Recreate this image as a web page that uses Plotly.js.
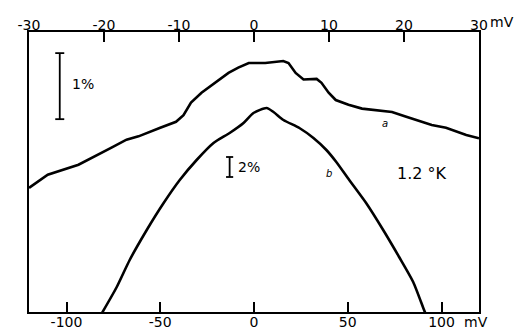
<!DOCTYPE html>
<html>
<head>
<meta charset="utf-8">
<script src="https://cdn.plot.ly/plotly-3.0.1.min.js"></script>
<style>html,body{margin:0;padding:0;background:#fff;}</style>
</head>
<body>
<div id="chart" style="width:521px;height:331px;"></div>
<script>
// Curve a: top axis (mV, -30..30), relative change in %
const aVoltage = [-30.0, -27.5, -23.4, -21.45, -19.0, -17.0, -15.4, -12.5, -10.4, -9.4, -8.4, -7.0, -5.15, -3.4, -2.1, -0.7, 1.5, 3.3, 3.9, 4.6, 5.55, 6.6, 8.35, 9.0, 9.95, 10.9, 12.6, 14.4, 16.6, 18.4, 20.2, 23.7, 25.6, 28.3, 30.0];
const aPercent = [1.88, 2.08, 2.23, 2.35, 2.49, 2.61, 2.66, 2.79, 2.88, 2.98, 3.17, 3.32, 3.47, 3.62, 3.70, 3.77, 3.77, 3.79, 3.80, 3.77, 3.62, 3.52, 3.53, 3.47, 3.32, 3.21, 3.14, 3.08, 3.05, 3.03, 2.96, 2.83, 2.79, 2.68, 2.63];
// Curve b: bottom axis (mV, -120..120), relative change in %
const bVoltage = [-82.0, -73.2, -66.3, -57.2, -48.2, -39.6, -30.6, -21.6, -13.0, -5.6, -0.3, 6.7, 10.4, 15.7, 24.2, 31.7, 38.6, 43.9, 50.8, 59.8, 68.9, 77.4, 84.9, 90.7, 91.8];
const bPercent = [-0.4, 2.5, 5.2, 8.2, 10.9, 13.2, 15.2, 16.9, 17.9, 18.9, 19.9, 20.4, 20.0, 19.2, 18.4, 17.4, 16.2, 15.0, 13.2, 10.9, 8.2, 5.5, 3.0, 0.2, -0.3];

const topTicks = [-30, -20, -10, 0, 10, 20, 30];
const topTickText = ['-30', '-20', '-10', '0', '10', '20', '30'];
const bottomTicks = [-100, -50, 0, 50, 100];
const bottomTickText = ['-100', '-50', '0', '50', '100'];

// scale bars
const barA = {x: -25.9, y0: 2.92, y1: 3.92, cap: 0.6};   // 1% on curve a axes
const barB = {x: -13.0, y0: 13.5, y1: 15.5, cap: 1.9};   // 2% on curve b axes

const FONT = 'DejaVu Sans, Liberation Sans, sans-serif';

const traces = [
  {x: bVoltage, y: bPercent, xaxis: 'x', yaxis: 'y', mode: 'lines',
   line: {color: '#000', width: 2.6, shape: 'spline', smoothing: 0.6}, hoverinfo: 'skip', showlegend: false},
  {x: aVoltage, y: aPercent, xaxis: 'x2', yaxis: 'y2', mode: 'lines',
   line: {color: '#000', width: 2.6}, hoverinfo: 'skip', showlegend: false}
];

function bar(b, xref, yref) {
  const ln = {color: '#000', width: 1.8};
  return [
    {type: 'line', xref: xref, yref: yref, x0: b.x, x1: b.x, y0: b.y0, y1: b.y1, line: ln},
    {type: 'line', xref: xref, yref: yref, x0: b.x - b.cap, x1: b.x + b.cap, y0: b.y0, y1: b.y0, line: ln},
    {type: 'line', xref: xref, yref: yref, x0: b.x - b.cap, x1: b.x + b.cap, y0: b.y1, y1: b.y1, line: ln}
  ];
}

const layout = {
  width: 521, height: 331,
  margin: {l: 29, r: 42, t: 32, b: 19},
  paper_bgcolor: '#fff', plot_bgcolor: '#fff',
  font: {family: FONT, color: '#000', size: 14},
  showlegend: false,
  xaxis: {range: [-120, 120], tickvals: bottomTicks, ticktext: bottomTickText,
    ticks: 'inside', ticklen: 10, tickwidth: 2, tickcolor: '#000', ticklabelstandoff: -4,
    showline: true, linewidth: 2, linecolor: '#000', showgrid: false, zeroline: false,
    tickfont: {family: FONT, size: 14, color: '#000'}, fixedrange: true},
  xaxis2: {range: [-30, 30], overlaying: 'x', side: 'top', anchor: 'y2',
    tickvals: topTicks, ticktext: topTickText,
    ticks: 'inside', ticklen: 10, tickwidth: 2, tickcolor: '#000', ticklabelstandoff: -6,
    showline: true, linewidth: 2, linecolor: '#000', showgrid: false, zeroline: false,
    tickfont: {family: FONT, size: 14, color: '#000'}, fixedrange: true},
  yaxis: {range: [0, 28], showline: true, mirror: true, linewidth: 2, linecolor: '#000',
    showticklabels: false, ticks: '', showgrid: false, zeroline: false, fixedrange: true},
  yaxis2: {range: [0, 4.24], overlaying: 'y', anchor: 'x2', showline: false, showticklabels: false,
    ticks: '', showgrid: false, zeroline: false, fixedrange: true},
  shapes: bar(barA, 'x2', 'y2').concat(bar(barB, 'x', 'y')),
  annotations: [
    {xref: 'paper', yref: 'paper', x: 1.02, y: 1, yshift: 10, xanchor: 'left', yanchor: 'middle',
     text: 'mV', showarrow: false, font: {family: FONT, size: 14}},
    {xref: 'paper', yref: 'paper', x: 0.962, y: 0, yshift: -10, xanchor: 'left', yanchor: 'middle',
     text: 'mV', showarrow: false, font: {family: FONT, size: 14}},
    {xref: 'x2', yref: 'y2', x: -24.6, y: 3.45, xanchor: 'left', yanchor: 'middle',
     text: '1%', showarrow: false, font: {family: FONT, size: 14}},
    {xref: 'x', yref: 'y', x: -9.5, y: 14.5, xanchor: 'left', yanchor: 'middle',
     text: '2%', showarrow: false, font: {family: FONT, size: 14}},
    {xref: 'x', yref: 'y', x: 75, y: 13.9, xanchor: 'left', yanchor: 'middle',
     text: '1.2 °K', showarrow: false, font: {family: FONT, size: 16}},
    {xref: 'x2', yref: 'y2', x: 17.4, y: 2.85, xanchor: 'center', yanchor: 'middle',
     text: '<i>a</i>', showarrow: false, font: {family: FONT, size: 10}},
    {xref: 'x', yref: 'y', x: 40.2, y: 13.9, xanchor: 'center', yanchor: 'middle',
     text: '<i>b</i>', showarrow: false, font: {family: FONT, size: 10}}
  ]
};

Plotly.newPlot('chart', traces, layout, {displayModeBar: false, staticPlot: true});
</script>
</body>
</html>
